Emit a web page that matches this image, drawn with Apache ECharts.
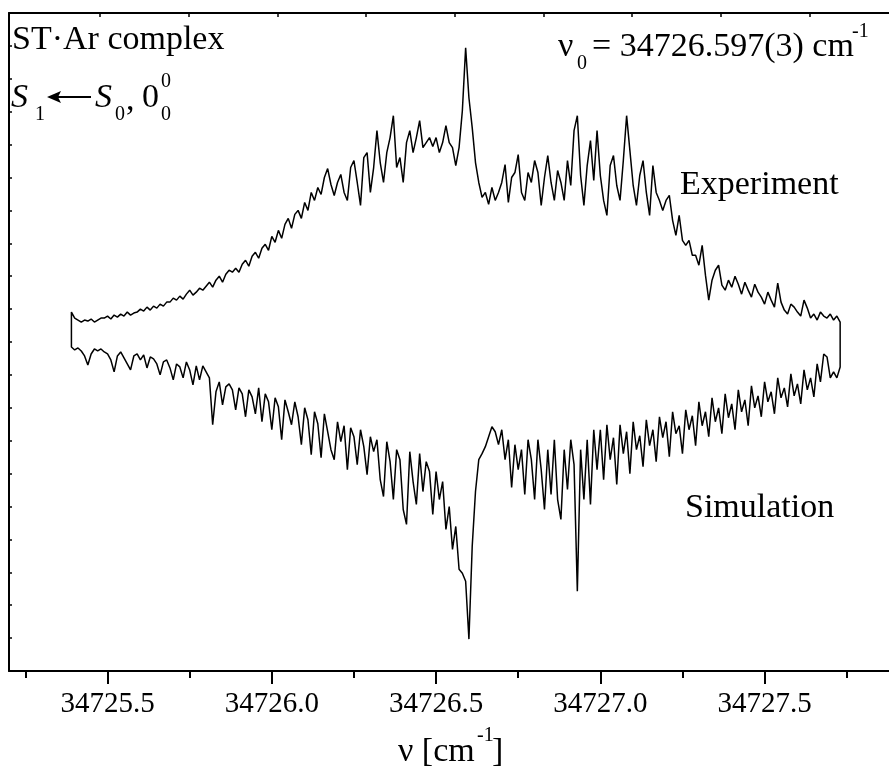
<!DOCTYPE html>
<html>
<head>
<meta charset="utf-8">
<script src="https://cdn.jsdelivr.net/npm/echarts@6/dist/echarts.min.js"></script>
<style>
  html, body { margin: 0; padding: 0; overflow: hidden; background: #fff; }
  #chart { width: 905px; height: 773px; }
</style>
</head>
<body>
<div id="chart"></div>
<script>
// Wavenumber sampling of both traces (cm^-1)
const nuStart = 34725.39;
const nuStep = 0.01;
const baseline = 0;

// Measured LIF spectrum (arbitrary units, drawn upwards)
const experiment = [
  30, 24, 22, 20, 22, 21, 23, 20, 22, 24,
  24, 26, 23, 27, 25, 28, 26, 30, 27, 29,
  30, 33, 31, 35, 32, 36, 34, 38, 36, 40,
  40, 44, 42, 46, 43, 48, 52, 47, 50, 54,
  52, 56, 60, 55, 62, 66, 60, 68, 72, 70,
  74, 70, 78, 82, 76, 86, 90, 84, 94, 98,
  92, 106, 100, 112, 104, 118, 124, 114, 128, 132,
  124, 140, 132, 150, 142, 155, 148, 165, 174, 158,
  147, 160, 168, 150, 142, 175, 182, 160, 137, 185,
  190, 150, 175, 212, 180, 160, 190, 205, 227, 175,
  185, 160, 200, 212, 190, 205, 222, 195, 200, 205,
  196, 205, 190, 200, 217, 200, 195, 177, 195, 232,
  295, 245, 215, 180, 160, 145, 150, 138, 155, 142,
  150, 160, 178, 140, 165, 170, 188, 150, 142, 170,
  160, 182, 170, 137, 165, 187, 160, 142, 172, 160,
  142, 182, 157, 212, 227, 167, 137, 177, 202, 162,
  212, 167, 142, 127, 177, 187, 157, 142, 182, 227,
  192, 157, 137, 167, 182, 150, 127, 177, 150, 142,
  132, 142, 147, 122, 107, 127, 102, 97, 102, 87,
  87, 77, 97, 67, 42, 62, 72, 77, 57, 52,
  62, 55, 66, 58, 48, 60, 52, 45, 58, 50,
  45, 38, 50, 42, 35, 59, 40, 32, 28, 38,
  35, 30, 26, 42, 34, 24, 28, 22, 30, 26,
  24, 28, 22, 26, 20
];

// Simulated spectrum (arbitrary units, drawn downwards)
const simulation = [
  -5, -8, -6, -9, -14, -23, -12, -7, -9, -7,
  -10, -12, -18, -30, -14, -10, -16, -22, -28, -14,
  -12, -18, -13, -26, -15, -17, -22, -33, -20, -18,
  -26, -38, -22, -25, -36, -20, -28, -43, -24, -38,
  -24, -30, -36, -83, -50, -40, -63, -45, -42, -48,
  -68, -46, -52, -75, -48, -55, -72, -46, -80, -52,
  -60, -88, -56, -65, -98, -58, -70, -83, -60, -75,
  -103, -66, -78, -113, -70, -82, -116, -72, -90, -108,
  -118, -80, -100, -84, -128, -86, -95, -123, -88, -105,
  -133, -95, -110, -98, -138, -155, -100, -120, -158, -108,
  -118, -168, -183, -110, -140, -163, -112, -150, -120, -130,
  -173, -130, -158, -140, -188, -165, -208, -185, -228, -232,
  -240, -298, -205, -150, -118, -112, -105, -95, -85, -90,
  -103, -88, -118, -98, -146, -103, -128, -108, -153, -98,
  -118, -158, -98, -128, -168, -108, -153, -98, -158, -178,
  -108, -148, -98, -123, -250, -108, -158, -98, -163, -88,
  -128, -88, -138, -83, -118, -96, -143, -83, -112, -90,
  -132, -80, -108, -94, -125, -78, -104, -88, -120, -75,
  -96, -80, -115, -70, -92, -84, -112, -68, -88, -74,
  -104, -60, -84, -70, -95, -56, -80, -66, -92, -52,
  -76, -62, -88, -48, -70, -58, -84, -44, -66, -54,
  -75, -40, -60, -50, -72, -36, -56, -46, -65, -32,
  -54, -42, -62, -28, -48, -36, -55, -22, -40, -12,
  -15, -36, -30, -36, -25
];

// Axis ticks
const majorTicks = [34725.5, 34726.0, 34726.5, 34727.0, 34727.5];
const minorTicks = [34725.25, 34725.75, 34726.25, 34726.75, 34727.25, 34727.75];
const topTicks = [34725.477, 34725.747, 34726.017, 34726.287, 34726.557, 34726.827, 34727.097, 34727.367, 34727.637];

const nuMin = 34725.2, nuMax = 34727.9;

function toPairs(values) {
  const pts = values.map((v, i) => [+(nuStart + i * nuStep).toFixed(3), v]);
  const first = pts[0][0], last = pts[pts.length - 1][0];
  return [[first, baseline]].concat(pts, [[last, baseline]]);
}

const serif = '"Liberation Serif", "Times New Roman", serif';
const black = '#000';

function txt(text, x, y, size, extra) {
  return {
    type: 'text', x: x, y: y, silent: true,
    style: {
      text: text,
      font: (extra && extra.italic ? 'italic ' : '') + size + 'px ' + serif,
      fill: black,
      textAlign: (extra && extra.align) || 'left',
      textVerticalAlign: 'middle'
    }
  };
}

const chart = echarts.init(document.getElementById('chart'), null, { renderer: 'canvas' });

chart.setOption({
  animation: false,
  backgroundColor: '#fff',
  grid: { left: 9, top: 13, width: 887, height: 658, containLabel: false },
  xAxis: [
    {
      type: 'value', position: 'bottom', min: nuMin, max: nuMax,
      axisLine: { show: true, onZero: false, lineStyle: { color: black, width: 2 } },
      axisTick: { show: true, inside: false, length: 13, customValues: majorTicks, lineStyle: { color: black, width: 2 } },
      axisLabel: {
        show: true, customValues: majorTicks, margin: 19,
        formatter: v => Number(v).toFixed(1),
        fontSize: 29, fontFamily: serif, color: black
      },
      splitLine: { show: false }
    },
    {
      type: 'value', position: 'bottom', min: nuMin, max: nuMax,
      axisLine: { show: false, onZero: false },
      axisTick: { show: true, inside: false, length: 7, customValues: minorTicks, lineStyle: { color: black, width: 2 } },
      axisLabel: { show: false, customValues: minorTicks },
      splitLine: { show: false }
    },
    {
      type: 'value', position: 'top', min: nuMin, max: nuMax,
      axisLine: { show: true, onZero: false, lineStyle: { color: black, width: 2 } },
      axisTick: { show: true, inside: true, length: 4, customValues: topTicks, lineStyle: { color: black, width: 1.5 } },
      axisLabel: { show: false, customValues: topTicks },
      splitLine: { show: false }
    }
  ],
  yAxis: {
    type: 'value', min: -330, max: 330, interval: 33,
    axisLine: { show: true, onZero: false, lineStyle: { color: black, width: 2 } },
    axisTick: { show: true, inside: true, length: 3, lineStyle: { color: black, width: 1.5 } },
    axisLabel: { show: false },
    splitLine: { show: false }
  },
  series: [
    {
      name: 'Experiment', type: 'line', xAxisIndex: 0, data: toPairs(experiment),
      showSymbol: false, symbol: 'none', smooth: false,
      lineStyle: { color: black, width: 1.5 }
    },
    {
      name: 'Simulation', type: 'line', xAxisIndex: 0, data: toPairs(simulation),
      showSymbol: false, symbol: 'none', smooth: false,
      lineStyle: { color: black, width: 1.5 }
    }
  ],
  graphic: [
    txt('ST·Ar complex', 12, 40, 34),
    // S1 <- S0, 0^0_0
    txt('S', 11, 98, 34, { italic: true }),
    txt('1', 35, 115, 20),
    { type: 'line', silent: true, shape: { x1: 58, y1: 97, x2: 91, y2: 97 }, style: { stroke: black, lineWidth: 2 } },
    { type: 'polygon', silent: true, shape: { points: [[47, 97], [61, 91], [58, 97], [61, 103]] }, style: { fill: black } },
    txt('S', 95, 98, 34, { italic: true }),
    txt('0', 115, 115, 20),
    txt(',', 126, 101, 34),
    txt('0', 142, 98, 34),
    txt('0', 161, 82, 20),
    txt('0', 161, 115, 20),
    // v0 = 34726.597(3) cm^-1
    txt('ν', 558, 47, 34),
    txt('0', 577, 64, 20),
    txt('= 34726.597(3) cm', 592, 47, 34),
    txt('-1', 852, 32, 20),
    txt('Experiment', 680, 185, 34),
    txt('Simulation', 685, 508, 34),
    // axis title
    txt('ν [cm', 398, 752, 34),
    txt('-1', 477, 736, 20),
    txt(']', 492, 752, 34)
  ]
});
</script>
</body>
</html>
